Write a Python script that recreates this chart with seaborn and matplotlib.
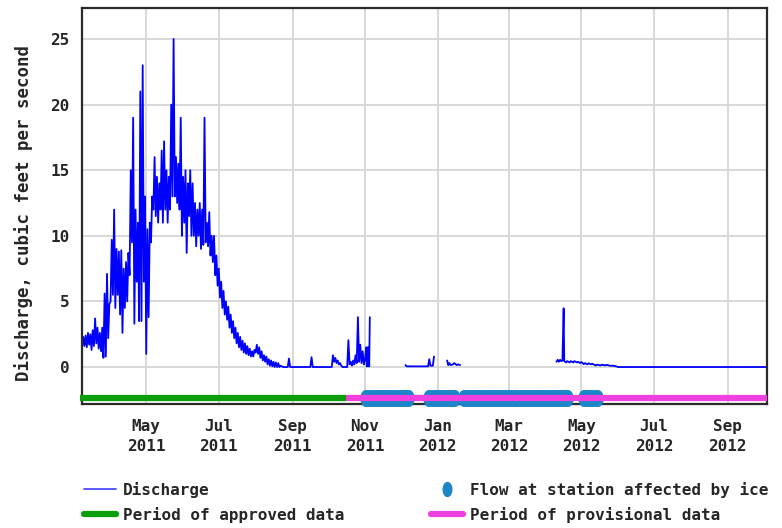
import matplotlib
matplotlib.use("Agg")
import matplotlib.pyplot as plt
import matplotlib.dates as mdates
from matplotlib.lines import Line2D
from matplotlib.path import Path
import numpy as np
import pandas as pd
import seaborn as sns

# ---- data read off the hydrograph ----
# noisy spring/summer part: 2-day blocks starting at BLOCK_START, (low, high) in cfs
BLOCK_START = "2011-03-08"
block_low = [1.5, 1.6, 1.5, 1.7, 1.3, 1.6, 1.8, 1.4, 1.2, 0.7,
             0.8, 2.2, 5.0, 5.5, 4.5, 5.5, 4.0, 2.6, 4.5, 5.0,
             7.0, 9.5, 3.3, 6.5, 3.5, 3.5, 6.5, 1.0, 3.8, 9.5,
             12.0, 11.5, 11.0, 12.0, 11.0, 12.0, 11.0, 12.0, 13.0, 13.0,
             12.5, 12.0, 10.0, 11.0, 8.7, 11.5, 10.0, 10.0, 9.2, 10.0,
             9.0, 9.3, 9.5, 9.2, 8.5, 8.0, 7.0, 6.2, 5.3, 4.5,
             4.0, 3.6, 3.0, 2.6, 2.2, 1.8, 1.5, 1.3, 1.1, 1.0,
             0.9, 0.8, 0.8, 1.1, 1.0, 0.7, 0.5, 0.4, 0.2, 0.1,
             0.05, 0.0, 0.0, 0.0]
block_high = [2.3, 2.4, 2.6, 2.5, 2.8, 3.7, 3.0, 2.6, 3.0, 5.6,
              7.1, 4.8, 9.7, 12.0, 9.0, 8.8, 8.9, 7.5, 8.0, 8.7,
              15.0, 19.0, 12.0, 11.0, 21.0, 23.0, 13.0, 10.5, 11.0, 13.0,
              16.0, 14.5, 14.0, 16.5, 17.2, 15.0, 14.5, 20.0, 25.0, 16.0,
              15.5, 19.0, 14.5, 15.0, 14.0, 15.0, 14.0, 12.5, 12.0, 12.5,
              12.0, 19.0, 11.0, 11.8, 10.0, 10.0, 8.5, 7.5, 6.5, 5.8,
              5.0, 4.6, 4.0, 3.5, 3.0, 2.6, 2.3, 2.0, 1.8, 1.6,
              1.4, 1.2, 1.3, 1.7, 1.5, 1.2, 0.9, 0.8, 0.6, 0.5,
              0.4, 0.35, 0.3, 0.1]

# low-flow tail of 2011, continuous with the blocks
fall_dates = ["2011-08-24", "2011-08-28", "2011-08-29", "2011-08-30", "2011-09-16",
              "2011-09-17", "2011-09-18", "2011-10-04", "2011-10-05", "2011-10-06",
              "2011-10-07", "2011-10-08", "2011-10-09", "2011-10-10", "2011-10-11",
              "2011-10-12", "2011-10-13", "2011-10-17", "2011-10-18", "2011-10-19",
              "2011-10-20", "2011-10-21", "2011-10-22", "2011-10-23", "2011-10-24",
              "2011-10-25", "2011-10-26", "2011-10-27", "2011-10-28", "2011-10-29",
              "2011-10-30", "2011-10-31", "2011-11-01", "2011-11-02", "2011-11-02 12:00",
              "2011-11-03", "2011-11-03 12:00", "2011-11-04", "2011-11-04 12:00", "2011-11-05"]
fall_values = [0.0, 0.0, 0.65, 0.0, 0.0,
               0.75, 0.0, 0.0, 0.9, 0.4,
               0.7, 0.3, 0.5, 0.2, 0.3,
               0.1, 0.0, 0.0, 2.05, 0.2,
               0.4, 0.1, 0.5, 0.2, 0.9,
               0.3, 3.8, 0.4, 1.7, 0.3,
               1.2, 0.2, 0.6, 1.5, 0.05,
               1.5, 0.05, 1.5, 0.05, 3.8]

dec_dates = ["2011-12-05", "2011-12-06", "2011-12-24", "2011-12-25", "2011-12-26",
             "2011-12-28", "2011-12-29"]
dec_values = [0.15, 0.05, 0.05, 0.6, 0.1, 0.1, 0.8]

jan_dates = ["2012-01-09", "2012-01-10", "2012-01-11", "2012-01-12", "2012-01-14",
             "2012-01-15", "2012-01-17", "2012-01-18", "2012-01-20"]
jan_values = [0.5, 0.15, 0.3, 0.15, 0.2, 0.3, 0.15, 0.2, 0.15]

spring_dates = ["2012-04-10", "2012-04-11", "2012-04-12", "2012-04-13", "2012-04-14",
                "2012-04-15", "2012-04-16", "2012-04-16 12:00", "2012-04-18", "2012-04-19",
                "2012-04-21", "2012-04-22", "2012-04-24", "2012-04-25", "2012-04-27",
                "2012-04-28", "2012-04-30", "2012-05-01", "2012-05-03", "2012-05-04",
                "2012-05-06", "2012-05-07", "2012-05-09", "2012-05-10", "2012-05-13",
                "2012-05-14", "2012-05-17", "2012-05-18", "2012-05-21", "2012-05-22",
                "2012-05-25", "2012-05-28", "2012-06-01", "2012-10-04"]
spring_values = [0.4, 0.55, 0.4, 0.55, 0.45,
                 0.5, 4.47, 0.45, 0.35, 0.45,
                 0.35, 0.45, 0.35, 0.45, 0.35,
                 0.4, 0.3, 0.38, 0.22, 0.3,
                 0.2, 0.28, 0.2, 0.25, 0.12,
                 0.18, 0.12, 0.18, 0.12, 0.17,
                 0.1, 0.1, 0.0, 0.0]

# qualification periods
approved_period = ["2011-03-06", "2011-10-16"]
provisional_period = ["2011-10-16", "2012-10-04"]
ice_start = ["2011-11-01", "2011-12-24", "2012-01-22", "2012-05-02"]
ice_end = ["2011-12-08", "2012-01-16", "2012-04-20", "2012-05-15"]

X_RANGE = ["2011-03-08", "2012-10-04"]
Y_RANGE = [-2.82, 27.36]
BAR_Y = -2.36
Y_TICKS = [0, 5, 10, 15, 20, 25]

BLUE = "#0000ff"
GREEN = "#0a9e0a"
PINK = "#f040e0"
ICE = "#1c86c8"

# ---- build the discharge table ----
t0 = pd.Timestamp(BLOCK_START)
rows = []
for i, (lo, hi) in enumerate(zip(block_low, block_high)):
    rows.append((t0 + pd.Timedelta(days=2 * i), lo, 0))
    rows.append((t0 + pd.Timedelta(days=2 * i + 1), hi, 0))
for seg, (dates, vals) in enumerate([(fall_dates, fall_values), (dec_dates, dec_values),
                                     (jan_dates, jan_values), (spring_dates, spring_values)]):
    for d, v in zip(dates, vals):
        rows.append((pd.Timestamp(d), v, seg))
flow = pd.DataFrame(rows, columns=["date", "discharge", "segment"])

ice_days = pd.concat([pd.Series(pd.date_range(s, e, freq="D")) for s, e in zip(ice_start, ice_end)])

# ---- style ----
sns.set_style("whitegrid", {"grid.color": "#d6d6d6", "axes.edgecolor": "#333333"})
plt.rcParams["font.family"] = ["DejaVu Sans Mono"]
plt.rcParams["font.weight"] = "bold"

fig = plt.figure(figsize=(7.82, 5.28), dpi=100)
ax = fig.add_axes([0.1049, 0.2348, 0.8759, 0.75])

sns.lineplot(data=flow, x="date", y="discharge", units="segment", estimator=None,
             sort=False, color=BLUE, linewidth=1.3, ax=ax, legend=False)

theta = np.linspace(0, 2 * np.pi, 41)
ellipse = Path(np.column_stack([0.62 * np.cos(theta), np.sin(theta)]), closed=True)

ax.plot(ice_days, [BAR_Y] * len(ice_days), ls="none", marker=ellipse, markersize=12,
        markerfacecolor=ICE, markeredgecolor=ICE, markeredgewidth=0, clip_on=False, zorder=3)
ax.plot(pd.to_datetime(approved_period), [BAR_Y, BAR_Y], color=GREEN, lw=4.5,
        solid_capstyle="butt", clip_on=False, zorder=4)
ax.plot(pd.to_datetime(provisional_period), [BAR_Y, BAR_Y], color=PINK, lw=4.5,
        solid_capstyle="butt", clip_on=False, zorder=4)

ax.set_xlim(pd.Timestamp(X_RANGE[0]), pd.Timestamp(X_RANGE[1]))
ax.set_ylim(*Y_RANGE)
ax.set_yticks(Y_TICKS)
ax.xaxis.set_major_locator(mdates.MonthLocator(bymonth=[1, 3, 5, 7, 9, 11]))
ax.xaxis.set_major_formatter(mdates.DateFormatter("%b\n%Y"))
ax.tick_params(axis="both", length=0, labelsize=11.5)
ax.tick_params(axis="x", pad=11)
ax.tick_params(axis="y", pad=9)
for lab in ax.get_xticklabels():
    lab.set_linespacing(1.35)
ax.grid(True, color="#d6d6d6", linewidth=1.3)
for sp in ax.spines.values():
    sp.set_linewidth(1.6)
    sp.set_color("#2a2a2a")

ax.set_xlabel("")
ax.set_ylabel("Discharge, cubic feet per second", fontsize=12.5, fontweight="bold")
ax.yaxis.set_label_coords(-0.072, 0.482)

handles = [
    Line2D([], [], color="#4040ff", lw=1.2),
    Line2D([], [], color=GREEN, lw=4.5),
    Line2D([], [], ls="none", marker=ellipse, markersize=10, markerfacecolor=ICE,
           markeredgecolor=ICE),
    Line2D([], [], color=PINK, lw=4.5),
]
labels = ["Discharge", "Period of approved data", "Flow at station affected by ice",
          "Period of provisional data"]
fig.legend(handles, labels, loc="upper left", bbox_to_anchor=(84 / 782, 1 - 482 / 528),
           ncol=2, frameon=False, borderpad=0, borderaxespad=0, handlelength=2.0,
           handletextpad=0.45, columnspacing=5.4, labelspacing=0.55,
           prop={"family": "DejaVu Sans Mono", "weight": "bold", "size": 11.5})

fig.savefig("out.png", dpi=100)
